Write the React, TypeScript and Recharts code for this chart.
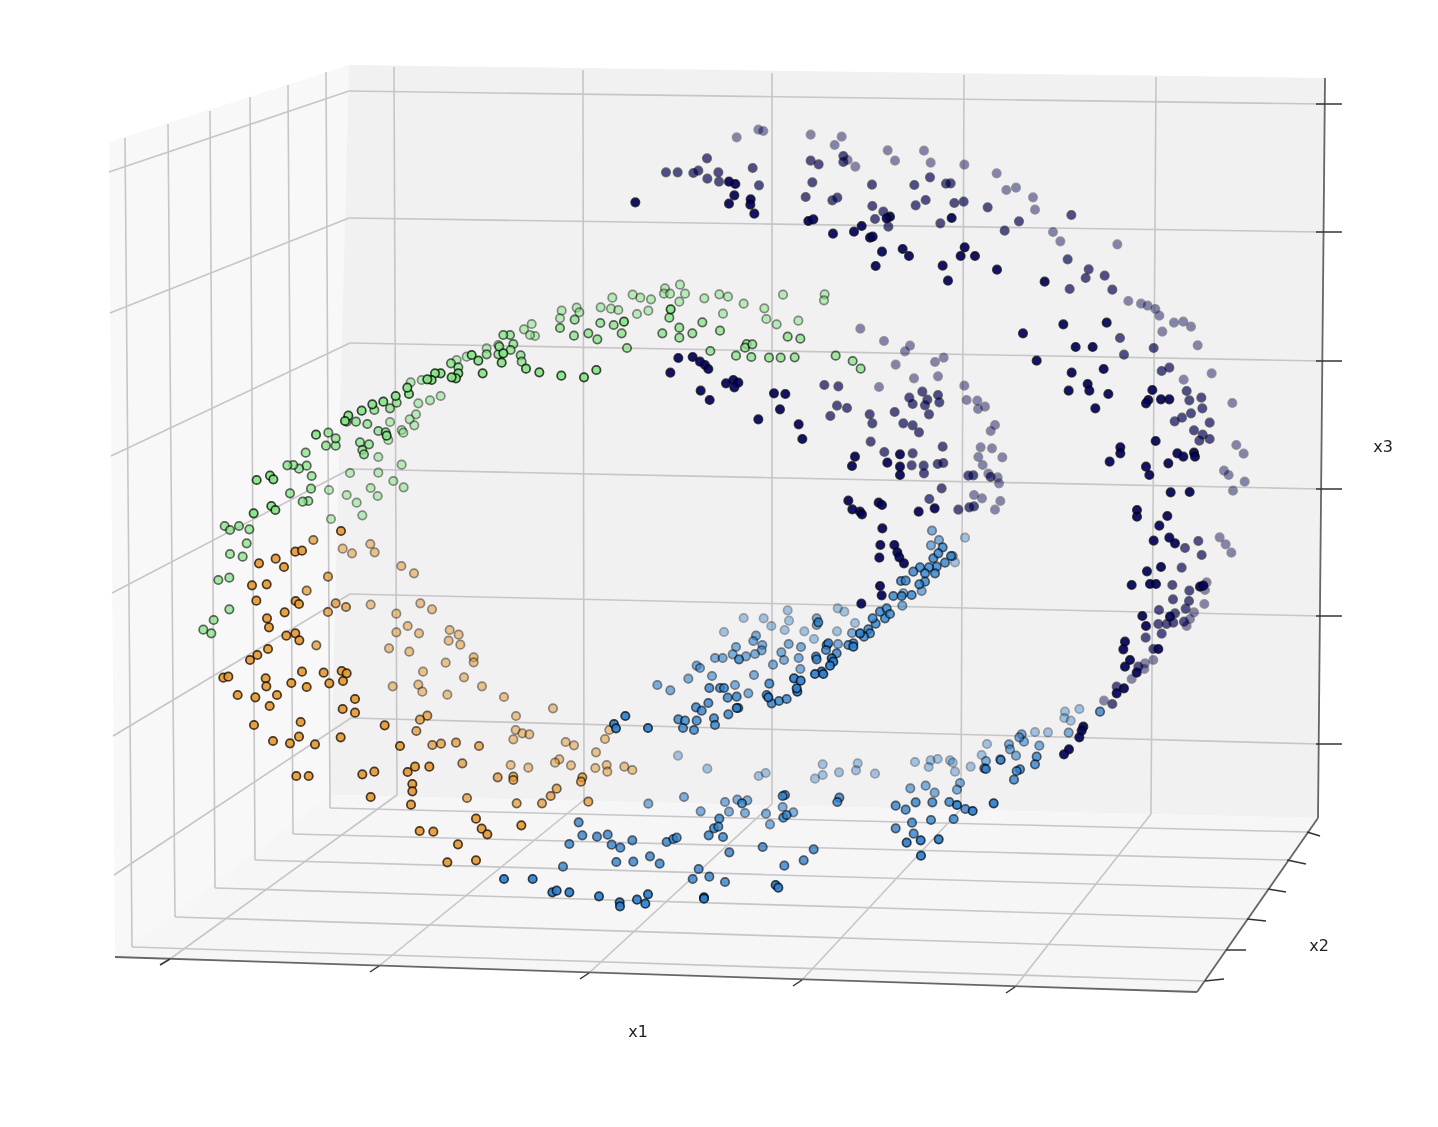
import React from "react";
import { ScatterChart, Scatter, XAxis, YAxis } from "recharts";

type Pt = { x: number; y: number };
// Readings taken from magnified views: origin of the view, then positions at 3x.
const fromCrop = (ox: number, oy: number, list: number[][]): Pt[] =>
  list.map(([a, b]) => ({ x: ox + a / 3, y: oy + b / 3 }));
const px = (list: number[][]): Pt[] => list.map(([x, y]) => ({ x, y }));

const navyLight: Pt[] = [
  ...fromCrop(550, 120, [[560,52],[625,29],[640,33],[782,44],[875,50],[854,75],[1013,91],[1035,122],[893,120],[916,140]]),
  ...fromCrop(900, 120, [[72,92],[92,128],[193,134],[290,160],[348,203],[319,210],[399,232],[405,269],[652,373],[459,336],[481,364],[685,543],[723,551],[743,557],[766,567],[778,587]]),
  ...fromCrop(550, 270, [[931,176],[1002,213],[1037,284],[987,351]]),
  ...fromCrop(900, 320, [[30,77],[15,94],[105,126],[131,113],[42,175],[114,169],[193,197],[200,240],[232,242],[255,260],[234,267],[285,315],[272,333],[242,382],[276,385],[307,412],[235,411],[248,435],[265,461],[293,472],[297,490],[301,543],[285,569],[222,525],[246,535],[787,35],[822,8],[850,5],[873,20],[893,76],[935,160],[851,179],[997,249],[1009,375],[1031,401],[1034,485],[999,512],[972,452],[986,465]]),
  ...fromCrop(1000, 520, [[659,52],[677,73],[694,98],[613,252],[582,277],[570,297],[560,318],[620,187],[615,210],[460,420],[312,542],[395,477],[435,430],[433,447]]),
];
const navyMid: Pt[] = [
  ...fromCrop(550, 120, [[471,115],[348,157],[383,157],[430,159],[445,152],[472,176],[505,157],[507,185],[608,144],[627,196],[782,122],[806,133],[880,108],[880,126],[787,187],[966,194],[767,231],[847,241],[862,233],[967,258],[975,297],[1000,275],[1015,320]]),
  ...fromCrop(900, 120, [[90,172],[138,191],[152,190],[43,195],[77,240],[47,256],[163,249],[191,245],[263,262],[357,304],[314,332],[121,310],[514,285],[557,474],[566,448],[509,507],[503,418],[637,509],[614,467]]),
  ...fromCrop(550, 270, [[823,345],[865,349],[1034,426],[861,407],[891,414],[841,438],[959,433],[967,460],[962,515],[1003,546]]),
  ...fromCrop(900, 320, [[67,215],[114,225],[118,247],[28,233],[82,239],[38,252],[75,256],[87,283],[660,54],[672,104],[761,84],[785,153],[808,143],[860,213],[868,241],[904,233],[907,265],[873,280],[846,293],[824,304],[929,308],[882,331],[908,344],[898,362],[929,357],[10,310],[38,316],[57,337],[128,380],[125,505],[205,467],[220,466],[272,471],[175,569],[208,562],[222,559],[88,537],[38,400],[35,436],[71,437],[72,460],[113,432],[130,429]]),
  ...fromCrop(1000, 520, [[595,63],[605,105],[555,84],[545,143],[517,195],[519,238],[567,243],[557,266],[525,280],[500,312],[520,308],[477,270],[475,312],[552,305],[485,341],[437,353],[460,387],[337,552],[415,440],[350,500],[568,212]]),
];
const navyDark: Pt[] = [
  ...fromCrop(550, 120, [[256,247],[537,185],[556,192],[553,226],[537,251],[602,238],[601,254],[613,281],[775,303],[790,298],[1020,290],[1010,295],[935,318],[912,335],[849,341],[960,353],[968,350],[996,395],[977,438]]),
  ...fromCrop(900, 120, [[155,294],[194,382],[182,408],[225,408],[8,387],[27,408],[128,437],[144,482],[291,449],[434,485]]),
  ...fromCrop(550, 270, [[385,264],[428,261],[450,275],[465,285],[475,297],[361,308],[528,340],[550,330],[565,338],[553,352],[452,362],[479,390],[672,370],[706,372],[690,418],[625,448],[746,463],[757,507],[915,560],[906,588],[1012,578]]),
  ...fromCrop(900, 320, [[369,40],[410,122],[527,81],[578,81],[515,158],[611,147],[563,192],[568,212],[506,212],[625,222],[586,265],[490,13],[620,8],[757,210],[745,240],[738,250],[783,238],[808,238],[767,363],[661,382],[661,400],[629,425],[738,440],[748,465],[805,430],[832,400],[850,410],[882,398],[885,410],[812,517],[869,516],[711,570],[711,590],[802,588],[104,565],[56,575],[0,403],[0,440],[0,465]]),
  ...fromCrop(640, 470, [[625,92],[637,118],[660,125],[666,133],[716,98],[726,105],[727,175],[721,225],[718,263],[763,225],[772,247],[778,262],[792,280],[720,348],[725,376],[664,401]]),
  ...fromCrop(1000, 520, [[478,17],[461,62],[508,53],[525,70],[483,141],[441,154],[395,195],[450,192],[468,192],[600,200],[610,197],[427,288],[438,318],[510,290],[375,365],[370,388],[390,420],[375,440],[410,458],[372,505],[350,520],[475,387],[250,620],[245,632],[238,652],[207,688],[192,703]]),
];

const greenLight: Pt[] = [
  ...fromCrop(550, 270, [[35,122],[80,113],[88,127],[30,145],[187,83],[248,74],[271,83],[303,88],[345,55],[342,71],[360,71],[390,44],[405,71],[388,95],[463,85],[508,73],[534,80],[581,101],[699,74],[824,73],[822,91],[643,115],[649,147],[745,152],[680,163],[519,131],[295,122],[261,132],[152,112],[183,116],[205,120]]),
  ...fromCrop(200, 320, [[972,28],[995,12],[1005,48],[990,45],[895,75],[860,85],[800,110],[770,120],[722,228],[690,241],[655,250],[665,180],[632,187],[648,283],[629,298],[643,316],[570,306],[605,330],[610,338],[565,360],[605,434],[535,411],[535,458],[450,459],[580,483],[611,502],[512,504],[533,528],[470,548],[487,586],[440,525],[393,597],[387,510]]),
];
const greenMid: Pt[] = [
  ...fromCrop(550, 270, [[30,174],[74,149],[72,197],[151,159],[191,165],[358,143],[457,157],[510,182],[427,190],[337,190],[388,203],[388,173],[751,206],[857,257],[908,273],[932,296],[734,262],[692,263],[657,263],[604,261],[558,257],[481,243],[231,234],[142,208],[115,190],[215,190],[590,222],[585,233],[607,223],[713,200]]),
  ...fromCrop(200, 320, [[535,333],[557,337],[502,312],[480,367],[507,373],[487,390],[492,403],[570,265],[590,248],[753,130],[860,103],[895,103],[962,106],[965,125],[335,468],[333,506],[270,520],[325,543],[308,545],[378,377],[407,377],[407,355],[320,437],[297,446],[280,435],[262,436],[317,398],[385,338],[523,270],[468,305],[440,305],[940,72],[932,90],[930,45],[910,45],[898,80],[775,142]]),
  ...fromCrop(190, 520, [[104,18],[120,30],[147,18],[178,28],[170,70],[120,102],[158,110],[85,180],[118,173],[118,268],[71,300],[40,329],[64,340]]),
];
const greenDark: Pt[] = [
  ...fromCrop(550, 270, [[222,155],[362,118],[139,300],[102,322],[34,317]]),
  ...fromCrop(200, 320, [[978,146],[1018,157],[905,128],[848,160],[835,122],[815,105],[910,100],[775,160],[768,175],[755,172],[722,160],[705,160],[695,180],[682,178],[627,222],[622,203],[587,228],[550,245],[517,253],[485,272],[445,287],[435,303],[560,347],[348,344],[170,480],[210,467],[220,478],[214,558],[226,570],[161,580]]),
];

const orangeLight: Pt[] = [
  ...fromCrop(190, 520, [[458,86],[486,100],[541,72],[554,97],[634,138],[672,160],[542,254],[691,250],[726,268],[619,281],[653,318],[619,337],[687,340],[779,330],[806,344],[776,362],[811,374],[597,385],[658,395],[767,428],[851,412],[851,427],[699,455],[822,472],[876,499],[685,494],[697,515],[608,499],[772,524],[942,531]]),
  ...fromCrop(290, 700, [[678,48],[789,25],[677,90],[697,100],[718,103],[670,118],[827,126],[852,136],[945,117],[958,90],[918,157],[1003,200],[1027,210],[950,195],[952,215],[916,204],[843,196],[715,203],[662,195],[808,178],[795,188]]),
];
const orangeMid: Pt[] = [
  ...fromCrop(190, 520, [[370,60],[414,170],[350,212],[437,250],[414,276],[468,261],[379,376]]),
  ...fromCrop(290, 700, [[412,47],[390,59],[379,93],[427,135],[453,131],[498,128],[567,138],[517,190],[623,232],[670,230],[670,240],[800,266],[782,288],[756,310],[680,310],[531,294],[895,305],[877,232],[873,245]]),
];
const orangeDark: Pt[] = [
  ...fromCrop(190, 520, [[453,33],[207,130],[257,116],[282,141],[316,95],[336,92],[186,196],[230,193],[199,242],[317,243],[327,252],[284,277],[231,295],[237,322],[289,347],[316,340],[328,361],[234,387],[202,405],[180,420],[100,473],[115,470],[227,475],[229,499],[143,525],[196,532],[261,525],[239,558],[336,455],[304,489],[350,501],[401,458],[418,490],[455,453],[470,460],[459,483],[495,537]]),
  ...fromCrop(290, 700, [[32,66],[158,27],[195,38],[27,110],[0,130],[75,133],[152,112],[284,76],[330,138],[375,200],[418,200],[353,216],[367,252],[367,274],[363,314],[217,223],[253,215],[242,291],[19,228],[56,228],[389,393],[430,395],[558,356],[575,386],[592,403],[694,376],[504,433],[472,487],[558,481]]),
  ...px([[254,725],[273,741]]),
];

const blueFaint: Pt[] = [
  ...fromCrop(640, 470, [[311,444],[371,445],[394,468],[443,421],[447,452],[434,480],[493,484],[252,486],[593,415],[613,425],[591,484],[945,277],[975,203],[522,507],[645,459]]),
  ...fromCrop(490, 740, [[564,47],[652,86],[806,108],[827,99],[998,73],[998,105],[975,116],[1047,97]]),
  ...fromCrop(800, 700, [[173,190],[168,211],[225,221],[345,186],[392,181],[413,177],[386,201],[450,181],[458,188],[465,215],[561,132],[512,200],[545,165],[838,27],[795,35],[793,54],[812,62],[744,97],[705,96]]),
];
const blueLight: Pt[] = [
  ...fromCrop(640, 470, [[348,497],[340,513],[367,525],[365,541],[288,531],[278,553],[318,559],[345,552],[446,522],[483,531],[424,547],[432,570],[476,564],[399,584],[481,597],[530,445],[530,465],[636,489],[594,522],[787,407],[790,370],[845,363],[938,258],[876,182],[897,210],[873,226],[342,615],[216,618],[145,626],[52,645],[91,661],[225,564],[248,564],[285,645],[325,670],[170,587],[180,594]]),
  ...fromCrop(490, 740, [[475,191],[582,171],[632,214],[705,186],[742,179],[772,181],[717,215],[765,219],[828,221],[840,253],[878,201],[910,217]]),
  ...fromCrop(800, 700, [[331,265],[377,257],[404,278],[480,249],[471,269],[627,133],[630,148],[648,167],[558,183],[601,178],[718,137],[665,103],[672,125],[658,112],[806,98]]),
];
const blueMid: Pt[] = [
  ...fromCrop(640, 470, [[535,457],[297,568],[388,641],[208,654],[240,654],[252,654],[263,683],[290,680],[205,699],[168,712],[185,722],[295,714],[265,733],[222,745],[115,748],[135,752],[170,752],[380,675],[395,700],[417,693],[440,687],[908,232],[880,265],[895,250],[933,258],[915,278],[890,290],[885,310],[867,292],[840,292],[820,305],[855,310],[855,335],[838,343],[785,378],[783,333],[797,332],[760,378],[815,375],[735,445],[720,425],[740,415],[750,432],[707,461],[698,445],[685,478],[690,490],[672,500],[640,520],[625,525],[560,525],[565,520],[558,540],[590,550],[528,560],[530,568]]),
  ...fromCrop(490, 740, [[266,247],[277,286],[321,290],[353,284],[238,312],[365,314],[391,323],[427,301],[530,306],[688,236],[672,265],[685,260],[656,286],[699,291],[718,337],[818,321],[885,165],[878,168],[756,190],[880,233],[890,225],[480,349],[509,371],[379,366],[430,365],[219,380],[626,387],[608,417],[658,410],[705,426],[550,297],[560,293],[971,328],[941,361],[883,377]]),
  ...fromCrop(800, 700, [[118,293],[112,306],[287,317],[317,329],[347,307],[397,307],[448,306],[496,327],[336,368],[393,360],[461,357],[287,385],[341,401],[553,205],[558,207],[602,180],[710,170],[705,193],[660,208],[650,213],[642,239],[900,35]]),
  ...px([[683,728],[694,730],[715,725]]),
];
const blueDark: Pt[] = [
  ...fromCrop(640, 470, [[660,490],[640,530],[575,565],[580,575],[570,587],[545,605],[525,612],[550,612],[462,625],[482,632],[472,665],[470,655],[385,682],[290,714]]),
  ...fromCrop(490, 740, [[42,417],[128,417],[187,457],[200,452],[238,457],[327,469],[389,487],[390,499],[441,479],[474,463],[466,491],[642,472],[642,476],[857,435],[865,443]]),
  ...fromCrop(800, 700, [[471,315],[518,333],[581,310],[362,421],[320,428],[416,418],[363,467]]),
  ...fromCrop(290, 700, [[1006,48],[972,72],[978,85]]),
  ...px([[648,728]]),
];

// Panes of the box
const leftPane = px([[109,142],[349,65],[330,795],[115,957]]);
const backPane = px([[349,65],[1325,78],[1318,818],[330,795]]);
const floorPane = px([[330,795],[1318,818],[1197,992],[115,957]]);

// Grid segments
const backVerticals = [[394,67,397,795],[583,70,584,800],[772,73,772,804],[964,75,961,809],[1156,77,1151,814]];
const floorToX = [[397,795,170,959],[584,800,379,966],[772,804,589,973],[961,809,802,980],[1151,814,1015,987]];
const backHorizontals = [[349,91,1322,104],[349,218,1322,232],[350,343,1321,361],[350,469,1320,489],[350,594,1319,616],[351,718,1318,744]];
const leftHorizontals = [[349,91,109,172],[349,218,110,313],[350,343,111,456],[350,469,112,593],[350,594,113,736],[351,718,114,875]];
const leftVerticals = [[125,138,132,947],[168,124,175,917],[210,111,215,888],[250,97,255,860],[288,85,293,834],[326,72,330,808]];
const floorToY = [[330,808,1307,832],[293,834,1287,860],[255,860,1268,889],[215,888,1247,919],[175,917,1226,950],[132,947,1205,981]];

const axisLines = [[115,957,1197,992],[1197,992,1318,818],[1318,818,1325,78]];
const xTicks = [[170,959,160,965],[379,966,370,972],[589,973,580,979],[802,980,793,986],[1015,987,1006,993]];
const yTicks = [[1307,832,1320,836],[1287,860,1306,864],[1268,889,1286,892],[1247,919,1266,921],[1226,950,1246,950],[1205,981,1224,979]];
const zTicks = [[1316,104,1342,104],[1316,232,1342,232],[1316,361,1342,361],[1316,489,1342,489],[1316,616,1342,616],[1316,744,1342,744]];

const axisTitles = [
  { x: 638, y: 1031, label: "x1" },
  { x: 1319, y: 945, label: "x2" },
  { x: 1383, y: 446, label: "x3" },
];

const NAVY = "#00006a";
const GREEN = "#80ea80";
const ORANGE = "#ef9a25";
const BLUE = "#2484da";

const pointLayers: [Pt[], string, number][] = [
  [blueFaint, BLUE, 0.42],
  [navyLight, NAVY, 0.45],
  [greenLight, GREEN, 0.55],
  [orangeLight, ORANGE, 0.55],
  [blueLight, BLUE, 0.6],
  [navyMid, NAVY, 0.68],
  [greenMid, GREEN, 0.75],
  [orangeMid, ORANGE, 0.75],
  [blueMid, BLUE, 0.78],
  [navyDark, NAVY, 0.92],
  [greenDark, GREEN, 0.92],
  [orangeDark, ORANGE, 0.92],
  [blueDark, BLUE, 0.92],
];

const Nothing = () => <g />;

const paneShape = (fill: string, verts: Pt[]) => (props: any) => {
  const pts = verts
    .map((v) => `${props.cx + v.x - verts[0].x},${props.cy + v.y - verts[0].y}`)
    .join(" ");
  return <polygon points={pts} fill={fill} stroke="none" />;
};

const dotShape = (fill: string, opacity: number) => (props: any) => (
  <circle cx={props.cx} cy={props.cy} r={4.2} fill={fill} stroke="#000" strokeOpacity={0.8} strokeWidth={1.7} opacity={opacity} />
);

const titleShape = (props: any) => (
  <text x={props.cx} y={props.cy} textAnchor="middle" dominantBaseline="central"
    fontFamily="DejaVu Sans" fontSize={16} fill="#222">
    {props.payload.label}
  </text>
);

const seg = (list: number[][], stroke: string, width: number, key: string) =>
  list.map(([a, b, c, d], i) => (
    <Scatter
      key={`${key}${i}`}
      data={[{ x: a, y: b }, { x: c, y: d }]}
      line={{ stroke, strokeWidth: width }}
      shape={Nothing}
      isAnimationActive={false}
    />
  ));

export default function App() {
  return (
    <div style={{ position: "absolute", left: 0, top: 0, width: 1438, height: 1127, background: "#fff", filter: "blur(0.7px)" }}>
      <ScatterChart width={1438} height={1127} margin={{ top: 0, right: 0, bottom: 0, left: 0 }}>
        <XAxis type="number" dataKey="x" domain={[0, 1438]} hide allowDataOverflow />
        <YAxis type="number" dataKey="y" domain={[0, 1127]} reversed hide allowDataOverflow />
        <Scatter data={[leftPane[0]]} shape={paneShape("#f8f8f8", leftPane)} isAnimationActive={false} />
        <Scatter data={[backPane[0]]} shape={paneShape("#f1f1f1", backPane)} isAnimationActive={false} />
        <Scatter data={[floorPane[0]]} shape={paneShape("#f6f6f6", floorPane)} isAnimationActive={false} />
        {seg(backVerticals, "#c6c6c6", 1.6, "bv")}
        {seg(floorToX, "#c6c6c6", 1.6, "fx")}
        {seg(backHorizontals, "#c6c6c6", 1.6, "bh")}
        {seg(leftHorizontals, "#c6c6c6", 1.6, "lh")}
        {seg(leftVerticals, "#c6c6c6", 1.6, "lv")}
        {seg(floorToY, "#c6c6c6", 1.6, "fy")}
        {seg(axisLines, "#666666", 1.8, "ax")}
        {seg(xTicks, "#333333", 1.5, "xt")}
        {seg(yTicks, "#333333", 1.5, "yt")}
        {seg(zTicks, "#333333", 1.5, "zt")}
        {pointLayers.map(([pts, fill, op], i) => (
          <Scatter key={`p${i}`} data={pts} shape={dotShape(fill, op)} isAnimationActive={false} />
        ))}
        <Scatter data={axisTitles} shape={titleShape} isAnimationActive={false} />
      </ScatterChart>
    </div>
  );
}
